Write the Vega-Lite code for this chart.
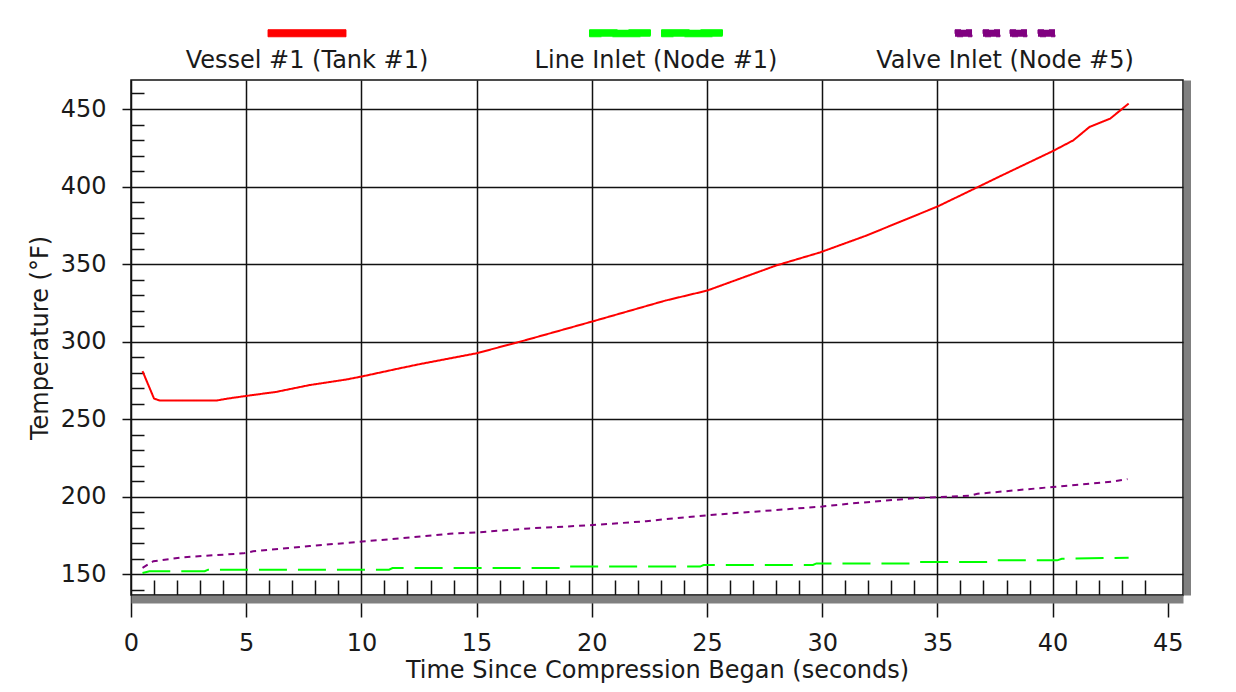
{
  "$schema": "https://vega.github.io/schema/vega-lite/v6.json",
  "width": 1052,
  "height": 515,
  "autosize": {"type": "none"},
  "padding": {"left": 131, "top": 80, "right": 53, "bottom": 97},
  "background": "white",
  "config": {
    "font": "DejaVu Sans",
    "view": {"stroke": "#111111", "strokeWidth": 1.5}
  },
  "data": {
    "values": [
      {"series": "Vessel #1 (Tank #1)", "time": 0.5, "temp": 281},
      {"series": "Vessel #1 (Tank #1)", "time": 1.0, "temp": 263.3},
      {"series": "Vessel #1 (Tank #1)", "time": 1.25, "temp": 262},
      {"series": "Vessel #1 (Tank #1)", "time": 3.7, "temp": 262},
      {"series": "Vessel #1 (Tank #1)", "time": 4.2, "temp": 263.3},
      {"series": "Vessel #1 (Tank #1)", "time": 5.0, "temp": 265},
      {"series": "Vessel #1 (Tank #1)", "time": 6.3, "temp": 267.6},
      {"series": "Vessel #1 (Tank #1)", "time": 7.75, "temp": 272},
      {"series": "Vessel #1 (Tank #1)", "time": 9.35, "temp": 275.6},
      {"series": "Vessel #1 (Tank #1)", "time": 10.07, "temp": 277.7},
      {"series": "Vessel #1 (Tank #1)", "time": 11.66, "temp": 282.8},
      {"series": "Vessel #1 (Tank #1)", "time": 12.53, "temp": 285.5},
      {"series": "Vessel #1 (Tank #1)", "time": 15.0, "temp": 292.5},
      {"series": "Vessel #1 (Tank #1)", "time": 17.16, "temp": 301.1},
      {"series": "Vessel #1 (Tank #1)", "time": 20.0, "temp": 312.9},
      {"series": "Vessel #1 (Tank #1)", "time": 23.2, "temp": 326.5},
      {"series": "Vessel #1 (Tank #1)", "time": 25.0, "temp": 332.9},
      {"series": "Vessel #1 (Tank #1)", "time": 28.0, "temp": 349.1},
      {"series": "Vessel #1 (Tank #1)", "time": 29.9, "temp": 357.5},
      {"series": "Vessel #1 (Tank #1)", "time": 31.9, "temp": 368.3},
      {"series": "Vessel #1 (Tank #1)", "time": 35.0, "temp": 387.1},
      {"series": "Vessel #1 (Tank #1)", "time": 36.8, "temp": 400},
      {"series": "Vessel #1 (Tank #1)", "time": 37.7, "temp": 406.5},
      {"series": "Vessel #1 (Tank #1)", "time": 40.0, "temp": 422.8},
      {"series": "Vessel #1 (Tank #1)", "time": 40.9, "temp": 429.8},
      {"series": "Vessel #1 (Tank #1)", "time": 41.6, "temp": 438.4},
      {"series": "Vessel #1 (Tank #1)", "time": 42.5, "temp": 443.8},
      {"series": "Vessel #1 (Tank #1)", "time": 43.3, "temp": 453.5},
      {"series": "Line Inlet (Node #1)", "time": 0.5, "temp": 150.8},
      {"series": "Line Inlet (Node #1)", "time": 0.8, "temp": 152},
      {"series": "Line Inlet (Node #1)", "time": 3.2, "temp": 152},
      {"series": "Line Inlet (Node #1)", "time": 3.35, "temp": 153},
      {"series": "Line Inlet (Node #1)", "time": 11.2, "temp": 153},
      {"series": "Line Inlet (Node #1)", "time": 11.35, "temp": 154},
      {"series": "Line Inlet (Node #1)", "time": 18.7, "temp": 154},
      {"series": "Line Inlet (Node #1)", "time": 18.8, "temp": 155},
      {"series": "Line Inlet (Node #1)", "time": 24.7, "temp": 155},
      {"series": "Line Inlet (Node #1)", "time": 24.85, "temp": 156},
      {"series": "Line Inlet (Node #1)", "time": 29.6, "temp": 156},
      {"series": "Line Inlet (Node #1)", "time": 29.75, "temp": 157},
      {"series": "Line Inlet (Node #1)", "time": 33.8, "temp": 157},
      {"series": "Line Inlet (Node #1)", "time": 33.95, "temp": 158},
      {"series": "Line Inlet (Node #1)", "time": 37.2, "temp": 158},
      {"series": "Line Inlet (Node #1)", "time": 37.35, "temp": 159},
      {"series": "Line Inlet (Node #1)", "time": 40.2, "temp": 159},
      {"series": "Line Inlet (Node #1)", "time": 40.4, "temp": 160},
      {"series": "Line Inlet (Node #1)", "time": 43.3, "temp": 160.7},
      {"series": "Valve Inlet (Node #5)", "time": 0.5, "temp": 154.2},
      {"series": "Valve Inlet (Node #5)", "time": 0.97, "temp": 158.4},
      {"series": "Valve Inlet (Node #5)", "time": 2.27, "temp": 161},
      {"series": "Valve Inlet (Node #5)", "time": 4.87, "temp": 163.5},
      {"series": "Valve Inlet (Node #5)", "time": 5.3, "temp": 164.8},
      {"series": "Valve Inlet (Node #5)", "time": 7.76, "temp": 168.2},
      {"series": "Valve Inlet (Node #5)", "time": 10.03, "temp": 171.1},
      {"series": "Valve Inlet (Node #5)", "time": 11.23, "temp": 172.6},
      {"series": "Valve Inlet (Node #5)", "time": 13.83, "temp": 176.1},
      {"series": "Valve Inlet (Node #5)", "time": 15.0, "temp": 177},
      {"series": "Valve Inlet (Node #5)", "time": 17.3, "temp": 179.6},
      {"series": "Valve Inlet (Node #5)", "time": 19.76, "temp": 181.5},
      {"series": "Valve Inlet (Node #5)", "time": 22.36, "temp": 184.2},
      {"series": "Valve Inlet (Node #5)", "time": 22.7, "temp": 184.8},
      {"series": "Valve Inlet (Node #5)", "time": 25.1, "temp": 188.2},
      {"series": "Valve Inlet (Node #5)", "time": 28.7, "temp": 192.2},
      {"series": "Valve Inlet (Node #5)", "time": 30.0, "temp": 193.7},
      {"series": "Valve Inlet (Node #5)", "time": 31.2, "temp": 195.6},
      {"series": "Valve Inlet (Node #5)", "time": 33.8, "temp": 198.8},
      {"series": "Valve Inlet (Node #5)", "time": 35.0, "temp": 199.8},
      {"series": "Valve Inlet (Node #5)", "time": 36.4, "temp": 200.6},
      {"series": "Valve Inlet (Node #5)", "time": 36.74, "temp": 201.9},
      {"series": "Valve Inlet (Node #5)", "time": 39.7, "temp": 205.9},
      {"series": "Valve Inlet (Node #5)", "time": 40.0, "temp": 206.3},
      {"series": "Valve Inlet (Node #5)", "time": 42.6, "temp": 209.7},
      {"series": "Valve Inlet (Node #5)", "time": 43.25, "temp": 211.4}
    ]
  },
  "resolve": {"axis": {"x": "independent", "y": "independent"}},
  "layer": [
    {
      "mark": {"type": "line", "strokeWidth": 2},
      "encoding": {
        "x": {
          "field": "time", "type": "quantitative",
          "scale": {"domain": [0, 45.66], "nice": false, "zero": false},
          "axis": {
            "orient": "bottom",
            "values": [0, 5, 10, 15, 20, 25, 30, 35, 40, 45],
            "title": "Time Since Compression Began (seconds)",
            "titleFont": "DejaVu Sans", "titleFontSize": 24, "titleFontWeight": "normal", "titleColor": "#1a1a1a", "titlePadding": 3,
            "labelFont": "DejaVu Sans", "labelFontSize": 24, "labelColor": "#1a1a1a", "labelPadding": 14,
            "labelFlush": false, "labelOverlap": false,
            "tickSize": 22, "tickColor": "#111111", "tickWidth": 1.5,
            "domain": true, "domainColor": "#111111", "domainWidth": 1.5,
            "grid": true, "gridColor": "#111111", "gridWidth": 1.5,
            "gridOpacity": {"condition": {"test": "datum.value > 0 && datum.value < 45", "value": 1}, "value": 0}
          }
        },
        "y": {
          "field": "temp", "type": "quantitative",
          "scale": {"domain": [136.65, 468.7], "nice": false, "zero": false},
          "axis": {
            "orient": "left",
            "values": [150, 200, 250, 300, 350, 400, 450],
            "title": "Temperature (°F)",
            "titleFont": "DejaVu Sans", "titleFontSize": 24, "titleFontWeight": "normal", "titleColor": "#1a1a1a", "titlePadding": 8,
            "labelFont": "DejaVu Sans", "labelFontSize": 24, "labelColor": "#1a1a1a", "labelPadding": 16,
            "labelOverlap": false,
            "tickSize": 9, "tickColor": "#111111", "tickWidth": 1.5,
            "domain": true, "domainColor": "#111111", "domainWidth": 1.5,
            "grid": true, "gridColor": "#111111", "gridWidth": 1.5
          }
        },
        "color": {
          "field": "series", "type": "nominal",
          "scale": {
            "domain": ["Vessel #1 (Tank #1)", "Line Inlet (Node #1)", "Valve Inlet (Node #5)"],
            "range": ["#ff0000", "#00ff00", "#800080"]
          },
          "legend": {
            "orient": "none", "legendX": 105.5, "legendY": -117.5,
            "direction": "horizontal", "title": null, "padding": 0,
            "columnPadding": 90, "gridAlign": "all",
            "symbolSize": 19600, "symbolStrokeWidth": 1,
            "labelFont": "DejaVu Sans", "labelFontSize": 24, "labelColor": "#1a1a1a",
            "labelLimit": 500, "labelOffset": 0, "labelAlign": "center",
            "encode": {
              "symbols": {
                "update": {
                  "shape": {"signal": "datum.value === 'Vessel #1 (Tank #1)' ? 'M-0.557,-0.05L0.557,-0.05L0.557,0.05L-0.557,0.05Z' : datum.value === 'Line Inlet (Node #1)' ? 'M-0.95,-0.05L-0.079,-0.05L-0.079,0.05L-0.95,0.05ZM0.079,-0.05L0.95,-0.05L0.95,0.05L0.079,0.05Z' : 'M-0.714,-0.05L-0.471,-0.05L-0.471,0.05L-0.714,0.05ZM-0.314,-0.05L-0.071,-0.05L-0.071,0.05L-0.314,0.05ZM0.071,-0.05L0.314,-0.05L0.314,0.05L0.071,0.05ZM0.471,-0.05L0.714,-0.05L0.714,0.05L0.471,0.05Z'"},
                  "fill": {"signal": "datum.value === 'Vessel #1 (Tank #1)' ? '#ff0000' : datum.value === 'Line Inlet (Node #1)' ? '#00ff00' : '#800080'"},
                  "strokeWidth": {"value": 1},
                  "strokeDash": {"value": [1, 0]},
                  "opacity": {"value": 1}
                }
              },
              "labels": {
                "update": {
                  "dx": {"value": -70.5},
                  "dy": {"value": 28}
                }
              }
            }
          }
        },
        "strokeDash": {
          "field": "series", "type": "nominal",
          "scale": {
            "domain": ["Vessel #1 (Tank #1)", "Line Inlet (Node #1)", "Valve Inlet (Node #5)"],
            "range": [[1, 0], [28, 11], [6, 5]]
          },
          "legend": null
        }
      }
    },
    {
      "mark": {"type": "line", "strokeOpacity": 0},
      "encoding": {
        "detail": {"field": "series", "type": "nominal"},
        "x": {
          "field": "time", "type": "quantitative",
          "scale": {"domain": [0, 45.66], "nice": false, "zero": false},
          "axis": {
            "orient": "bottom", "title": null, "labels": false, "grid": false, "domain": false,
            "values": [1, 2, 3, 4, 6, 7, 8, 9, 11, 12, 13, 14, 16, 17, 18, 19, 21, 22, 23, 24, 26, 27, 28, 29, 31, 32, 33, 34, 36, 37, 38, 39, 41, 42, 43, 44],
            "tickSize": -15, "tickColor": "#111111", "tickWidth": 1.5
          }
        },
        "y": {
          "field": "temp", "type": "quantitative",
          "scale": {"domain": [136.65, 468.7], "nice": false, "zero": false},
          "axis": {
            "orient": "left", "title": null, "labels": false, "grid": false, "domain": false,
            "values": [140, 160, 170, 180, 190, 210, 220, 230, 240, 260, 270, 280, 290, 310, 320, 330, 340, 360, 370, 380, 390, 410, 420, 430, 440, 460],
            "tickSize": -13, "tickColor": "#111111", "tickWidth": 1.5
          }
        }
      }
    },
    {
      "mark": {"type": "line", "strokeOpacity": 0},
      "encoding": {
        "detail": {"field": "series", "type": "nominal"},
        "x": {
          "field": "time", "type": "quantitative",
          "scale": {"domain": [0, 45.66], "nice": false, "zero": false},
          "axis": {
            "orient": "bottom", "title": null, "labels": false, "grid": false, "ticks": false,
            "domain": true, "domainColor": "#808080", "domainWidth": 8, "offset": 4
          }
        },
        "y": {
          "field": "temp", "type": "quantitative",
          "scale": {"domain": [136.65, 468.7], "nice": false, "zero": false},
          "axis": {
            "orient": "right", "title": null, "labels": false, "grid": false, "ticks": false,
            "domain": true, "domainColor": "#808080", "domainWidth": 7, "offset": 4
          }
        }
      }
    }
  ]
}
